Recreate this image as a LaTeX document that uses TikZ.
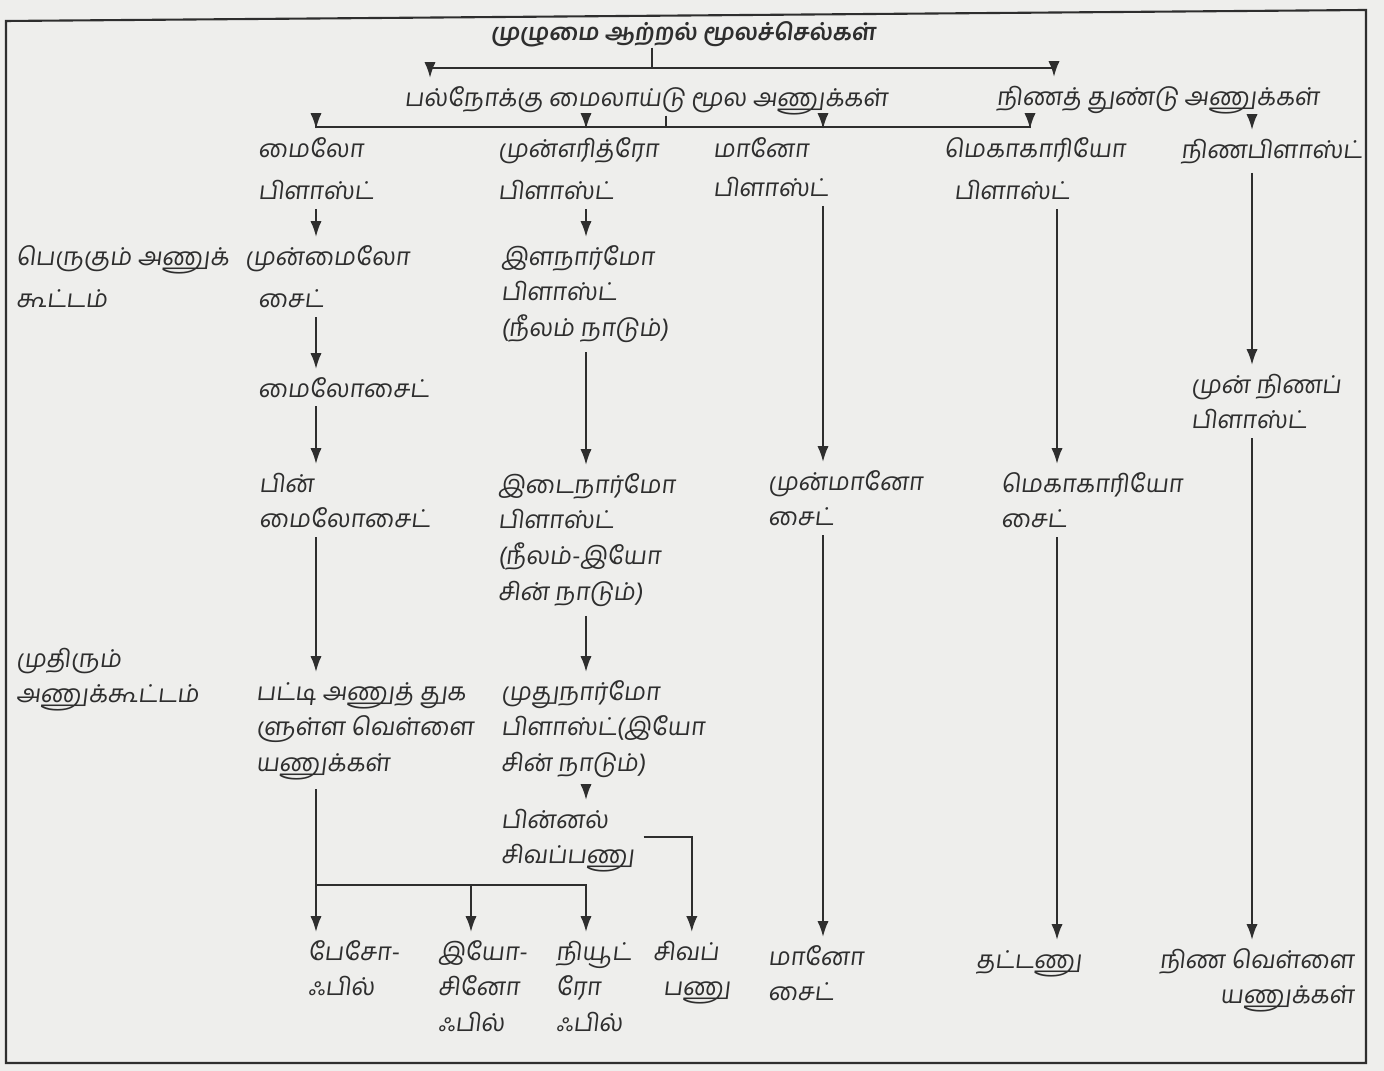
\documentclass[tikz,border=0pt]{standalone}
\usepackage{fontspec}
\setmainfont{Hind Madurai}[Script=Tamil, FakeSlant=0.12]
\usetikzlibrary{arrows.meta}
\definecolor{paper}{HTML}{EEEEEC}
\definecolor{ink}{HTML}{2E2E2E}
\newcommand\tstrut{\rule{0pt}{7.7pt}}

\begin{document}
\begin{tikzpicture}[x=0.1mm, y=-0.1mm, line width=0.6pt, color=ink,
  lbl/.style={inner sep=0pt, anchor=north west, align=left,
    font={\fontsize{7}{10.2}\selectfont\lineskiplimit=-20pt\relax}},
  arr/.style={-{Latex[length=4.5pt,width=3.2pt]}},
  flow/.style={arr, shorten <=0.8mm}]
\useasboundingbox (0,0) rectangle (1384,1071);
\fill[paper] (0,0) rectangle (1384,1071);
\draw (6,21) -- (1366,10) -- (1366,1063) -- (6,1063) -- cycle;

% top levels
\node[lbl, anchor=north, font=\bfseries\fontsize{6.6}{12}\selectfont] (stem) at (683,12) {\tstrut முழுமை ஆற்றல் மூலச்செல்கள்};
\node[lbl, anchor=north] (myeloid) at (646,78) {\tstrut பல்நோக்கு மைலாய்டு மூல அணுக்கள்};
\node[lbl, anchor=north] (lymphoid) at (1158,77) {\tstrut நிணத் துண்டு அணுக்கள்};

% stage labels on the left
\node[lbl] (prolif) at (15,237) {\tstrut பெருகும் அணுக்\\[2pt]கூட்டம்};
\node[lbl] (mature) at (15,639) {\tstrut முதிரும்\\அணுக்கூட்டம்};

% myeloid column
\node[lbl] (mblast) at (257,129) {\tstrut மைலோ\\[2pt]பிளாஸ்ட்};
\node[lbl] (promyelo) at (244,237) {\tstrut முன்மைலோ\\[2pt]\hspace*{1.3mm}சைட்};
\node[lbl] (myelo) at (257,369) {\tstrut மைலோசைட்};
\node[lbl] (metamyelo) at (258,464) {\tstrut பின்\\மைலோசைட்};
\node[lbl] (gran) at (255,672) {\tstrut பட்டி அணுத் துக\\ளுள்ள வெள்ளை\\யணுக்கள்};
\node[lbl] (baso) at (307,932) {\tstrut பேசோ-\\ஃபில்};
\node[lbl] (eosino) at (437,932) {\tstrut இயோ-\\சினோ\\ஃபில்};
\node[lbl] (neutro) at (555,932) {\tstrut நியூட்\\ரோ\\ஃபில்};

% erythroid column
\node[lbl] (eblast) at (497,129) {\tstrut முன்எரித்ரோ\\[2pt]பிளாஸ்ட்};
\node[lbl] (ebaso) at (500,237) {\tstrut இளநார்மோ\\பிளாஸ்ட்\\(நீலம் நாடும்)};
\node[lbl] (epoly) at (497,465) {\tstrut இடைநார்மோ\\பிளாஸ்ட்\\(நீலம்-இயோ\\சின் நாடும்)};
\node[lbl] (eortho) at (500,672) {\tstrut முதுநார்மோ\\பிளாஸ்ட்(இயோ\\சின் நாடும்)};
\node[lbl] (retic) at (500,800) {\tstrut பின்னல்\\சிவப்பணு};
\node[lbl] (rbc) at (652,932) {\tstrut சிவப்\\\hspace*{1mm}பணு};

% mono, mega, lymph columns
\node[lbl] (moblast) at (712,129) {\tstrut மானோ\\[1pt]பிளாஸ்ட்};
\node[lbl] (promono) at (767,462) {\tstrut முன்மானோ\\சைட்};
\node[lbl] (mono) at (767,937) {\tstrut மானோ\\சைட்};
\node[lbl] (megablast) at (943,129) {\tstrut மெகாகாரியோ\\[2pt]\hspace*{1mm}பிளாஸ்ட்};
\node[lbl] (megacyte) at (1000,464) {\tstrut மெகாகாரியோ\\சைட்};
\node[lbl] (platelet) at (975,940) {\tstrut தட்டணு};
\node[lbl] (lblast) at (1180,130) {\tstrut நிணபிளாஸ்ட்};
\node[lbl] (prolymph) at (1190,365) {\tstrut முன் நிணப்\\பிளாஸ்ட்};
\node[lbl, anchor=north east, align=right] (lymphocyte) at (1355,940) {\tstrut நிண வெள்ளை\\யணுக்கள்};

\coordinate (j0) at (652,68);
\coordinate (j1) at (666,127);
\coordinate (j2) at (316,885);
\coordinate (c0) at (430,0);
\coordinate (c1) at (316,0);
\coordinate (ce) at (471,0);
\coordinate (c2) at (586,0);
\coordinate (c3) at (823,0);
\coordinate (c4) at (1030,0);
\coordinate (cl) at (1054,0);
\coordinate (c4b) at (1057,0);
\coordinate (c5) at (1252,0);

% branches
\draw (stem.south -| j0) -- (j0);
\draw[arr] (j0) -| (myeloid.north -| c0);
\draw[arr] (j0) -| (lymphoid.north -| cl);
\draw (myeloid.south -| j1) -- (j1);
\foreach \c/\n in {c1/mblast, c2/eblast, c3/moblast, c4/megablast}
  \draw[arr] (j1) -| (\n.north -| \c);

% lines of descent
\foreach \a/\b in {mblast/promyelo, promyelo/myelo, myelo/metamyelo, metamyelo/gran}
  \draw[flow] (\a.south -| c1) -- (\b.north -| c1);
\foreach \a/\b in {eblast/ebaso, ebaso/epoly, epoly/eortho, eortho/retic}
  \draw[flow] (\a.south -| c2) -- (\b.north -| c2);
\foreach \a/\b in {moblast/promono, promono/mono}
  \draw[flow] (\a.south -| c3) -- (\b.north -| c3);
\foreach \a/\b in {megablast/megacyte, megacyte/platelet}
  \draw[flow] (\a.south -| c4b) -- (\b.north -| c4b);
\foreach \a/\b in {lymphoid/lblast, lblast/prolymph, prolymph/lymphocyte}
  \draw[flow] (\a.south -| c5) -- (\b.north -| c5);

% granulocytes and red cell
\draw[shorten <=0.8mm] (gran.south -| c1) -- (j2);
\draw[arr] (j2) -- (baso.north -| c1);
\draw[arr] (j2) -| (eosino.north -| ce);
\draw[arr] (j2) -| (neutro.north -| c2);
\draw[flow] (retic.east) -| (rbc.north);

\end{tikzpicture}
\end{document}
